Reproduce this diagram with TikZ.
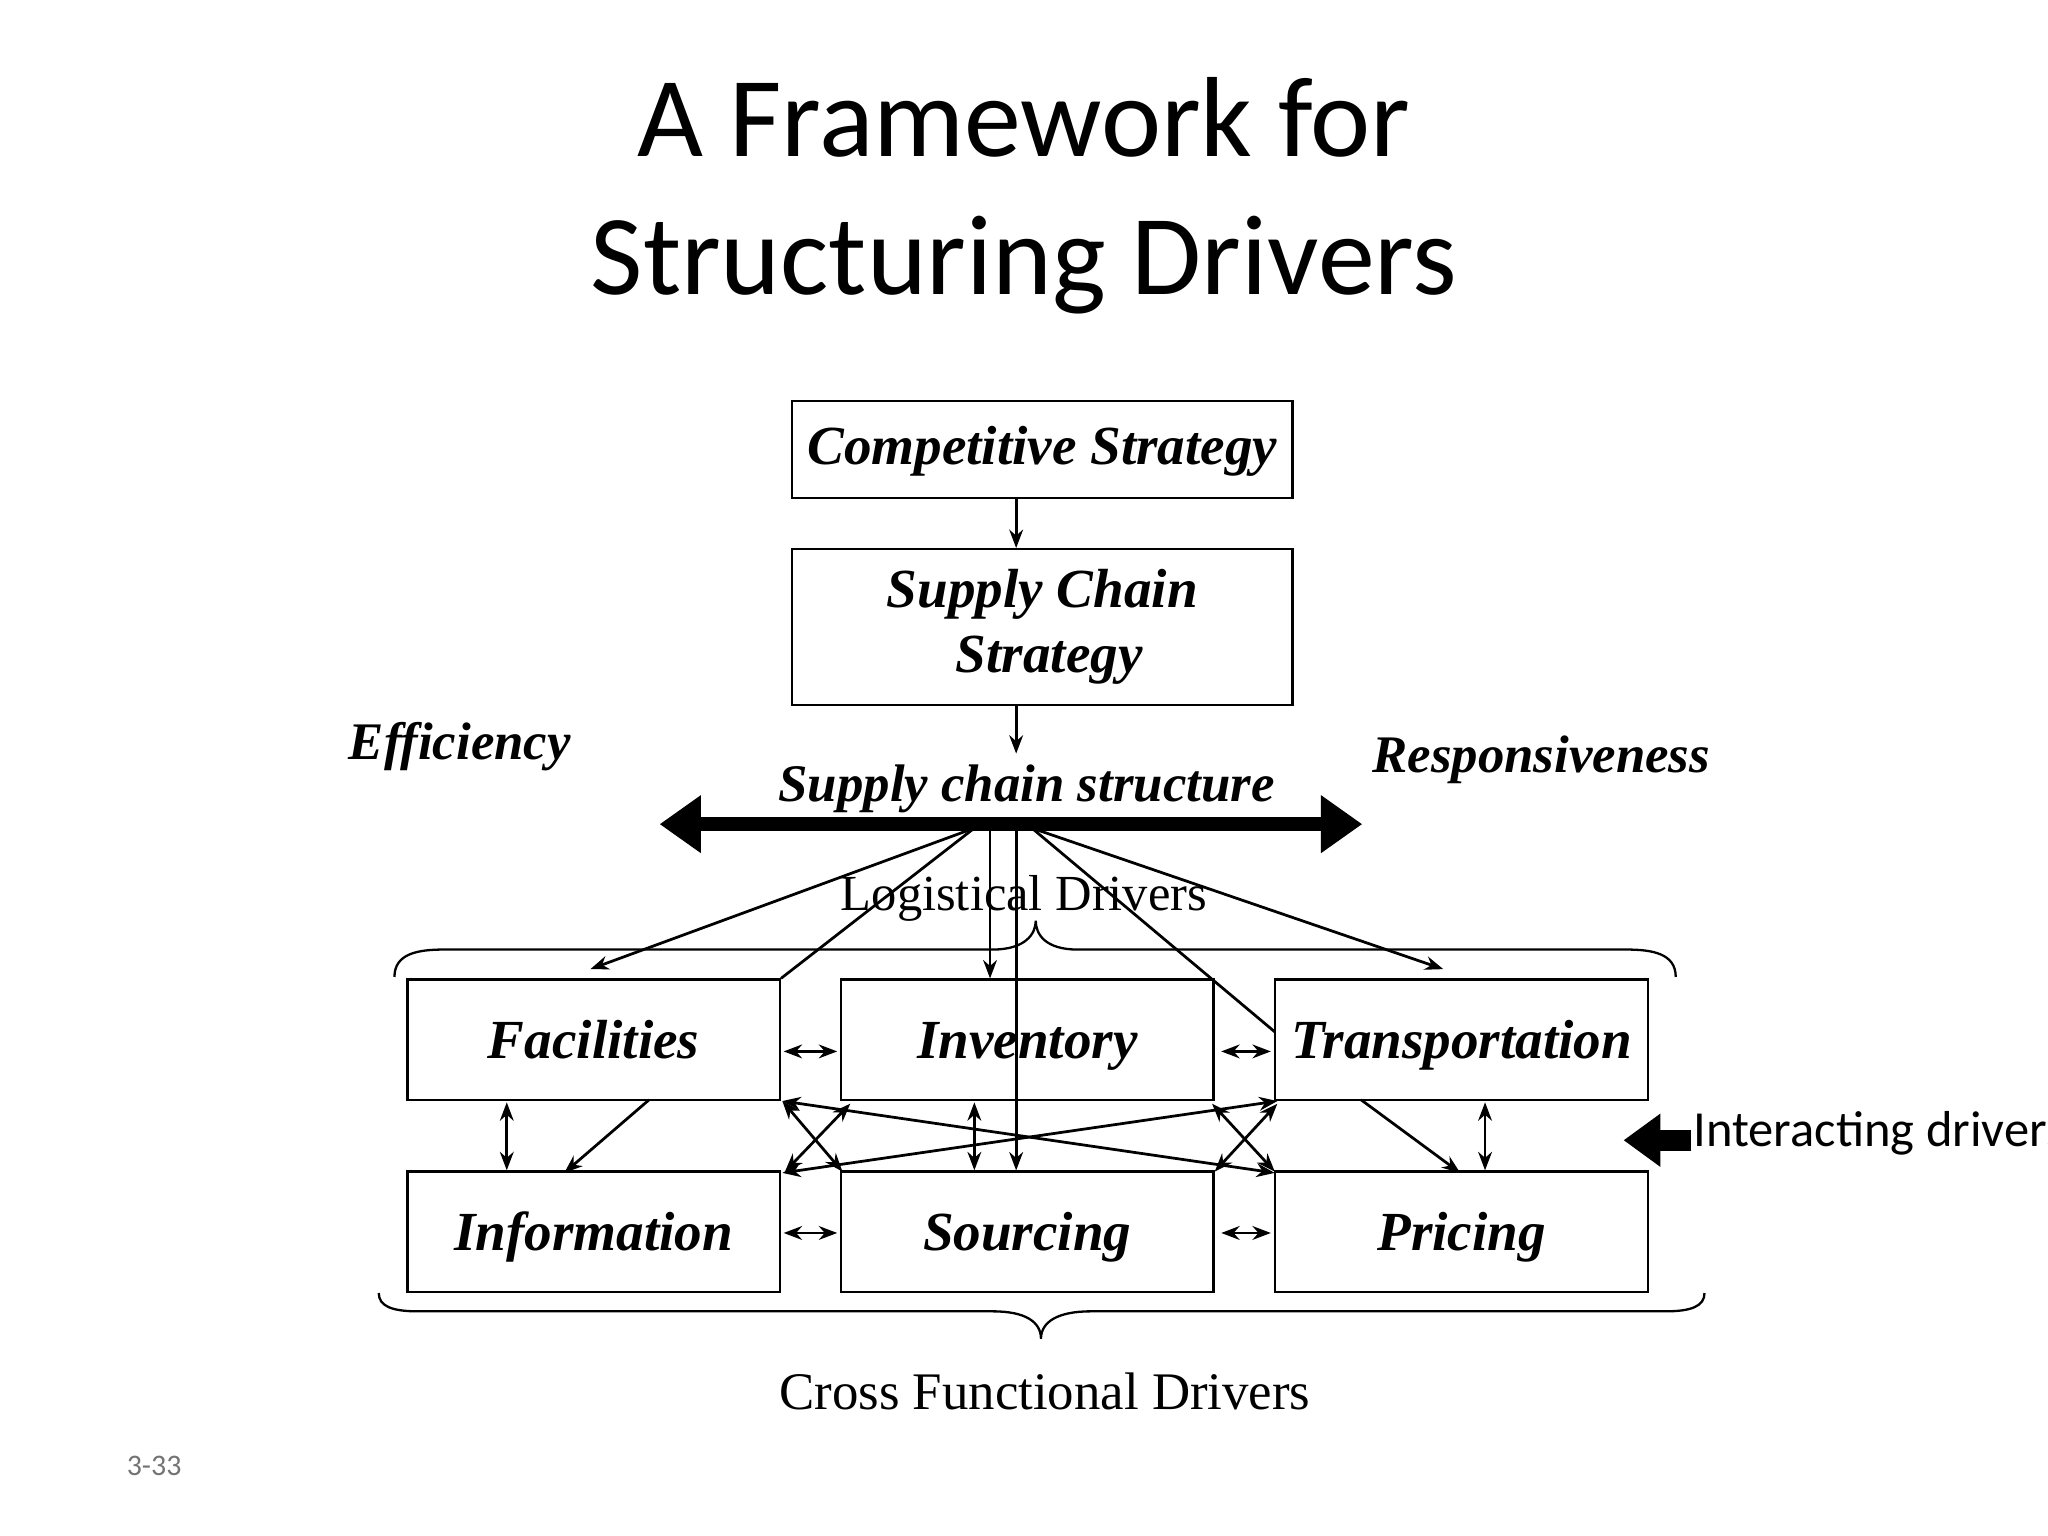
\documentclass[tikz,border=0pt]{standalone}
\usepackage{fontspec}
\setmainfont{Liberation Serif}
\newfontfamily\sans{Carlito}
\usetikzlibrary{arrows.meta}
\begin{document}
\begin{tikzpicture}[x=0.01cm,y=-0.01cm,
  box/.style={draw,line width=0.5pt,minimum width=2.85cm,minimum height=0.92cm,text height=3.3mm,text depth=0.4mm,font=\fontsize{12}{14}\selectfont\bfseries\itshape},
  dbl/.style={{Stealth[length=4pt]}-{Stealth[length=4pt]},line width=0.6pt},
  one/.style={-{Stealth[length=4pt]},line width=0.6pt},
  lab/.style={font=\fontsize{11.5}{13}\selectfont\bfseries\itshape}]
\useasboundingbox (0,0) rectangle (1568,1176);
\node[font=\sans\fontsize{24.8}{30}\selectfont,align=center] (title) at (784,150) {A Framework for\\Structuring Drivers};
\node[box,minimum width=3.83cm,minimum height=0.74cm,text height=3mm,text depth=0.6mm] (cs) at (798,344) {Competitive Strategy};
\node[box,minimum width=3.83cm,minimum height=1.19cm,align=center,text height=,text depth=] (scs) at (798,480) {Supply Chain\\\ Strategy};
\node[lab] (eff) at (352,572) {Efficiency};
\node[lab] (resp) at (1180,582) {Responsiveness};
\node[lab] (scst) at (786,604) {Supply chain structure};
\coordinate (bl) at (505,631); \coordinate (br) at (1043,631);
\draw[{Triangle[length=9pt,width=12pt]}-{Triangle[length=9pt,width=12pt]},line width=3pt] (bl) -- (br);
\node[font=\fontsize{11}{13}\selectfont] (log) at (784,688) {Logistical Drivers};
\node[box] (fac) at (454.5,796) {Facilities};
\node[box] (inv) at (786.5,796) {Inventory};
\node[box] (tra) at (1119,796) {Transportation};
\node[box] (inf) at (454.5,943) {Information};
\node[box] (sou) at (786.5,943) {Sourcing};
\node[box] (pri) at (1119,943) {Pricing};
\draw[one] (cs.south -| 778,0) -- (scs.north -| 778,0);
\draw[one] (scs.south -| 778,0) -- (778,577);
% fan from bar
\coordinate (h1) at (746,634); \coordinate (h2) at (790,634);
\draw[one] (h1) -- (452,742);
\draw[line width=0.6pt] (h1) -- (fac.north east);
\draw[one] (758,634) -- (inv.north -| 758,0);
\draw[one] (778,634) -- (sou.north -| 778,0);
\draw[line width=0.6pt] (h2) -- (976,790);
\draw[one] (h2) -- (1105,742);
% braces
\draw[line width=0.5pt] (302,748) .. controls (302,730) and (320,727) .. (340,727) -- (760,727) .. controls (785,727) and (793,715) .. (793,705) .. controls (793,715) and (800,727) .. (825,727) -- (1245,727) .. controls (1265,727) and (1283,730) .. (1283,748);
\draw[line width=0.5pt] (290,990) .. controls (290,1000) and (300,1004) .. (320,1004) -- (760,1004) .. controls (785,1004) and (797,1012) .. (797,1025) .. controls (797,1012) and (810,1004) .. (835,1004) -- (1275,1004) .. controls (1295,1004) and (1305,1000) .. (1305,990);
\node[font=\fontsize{11.5}{13}\selectfont] (cfd) at (800,1065) {Cross Functional Drivers};
% horizontal interactions
\draw[dbl] (600,805) -- (641,805);
\draw[dbl] (935,805) -- (973,805);
\draw[dbl] (600,944) -- (641,944);
\draw[dbl] (935,944) -- (973,944);
% vertical interactions
\draw[dbl] (388,844) -- (388,896);
\draw[dbl] (746,844) -- (746,896);
\draw[dbl] (1137,844) -- (1137,896);
% diagonals
\draw[one] (497,842) -- (432,898);
\draw[one] (1042,842) -- (1118,898);
\draw[dbl] (599,843) -- (976,898);
\draw[dbl] (978,843) -- (599,898);
\draw[dbl] (651,845) -- (601,897);
\draw[dbl] (599,843) -- (645,897);
\draw[dbl] (928,845) -- (976,897);
\draw[dbl] (978,845) -- (930,897);
% interacting drivers
\coordinate (ia) at (1243,873); \coordinate (ib) at (1295,873);
\draw[-{Triangle[length=8pt,width=11pt]},line width=4.5pt] (ib) -- (ia);
\node[font=\sans\fontsize{11}{13}\selectfont,anchor=west,inner sep=0pt] (idr) at (1296,868) {Interacting drivers};
\node[font=\sans\fontsize{6.5}{8}\selectfont,text=black!55] (pg) at (118,1122) {3-33};
\end{tikzpicture}
\end{document}
